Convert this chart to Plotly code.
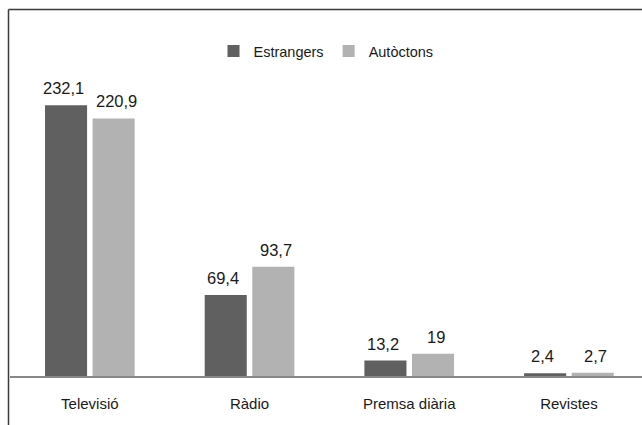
import plotly.graph_objects as go

categories = ["Televisió", "Ràdio", "Premsa diària", "Revistes"]
estrangers = [232.1, 69.4, 13.2, 2.4]
autoctons = [220.9, 93.7, 19, 2.7]
series_names = ["Estrangers", "Autòctons"]
colors = ["#606060", "#b2b2b2"]

def fmt(v):
    s = ("%g" % v).replace(".", ",")
    return s

FONT = "Liberation Sans, Arial, sans-serif"

fig = go.Figure()
for name, vals, col in zip(series_names, [estrangers, autoctons], colors):
    fig.add_trace(go.Bar(
        x=categories, y=vals, name=name, marker=dict(color=col, line=dict(width=0)),
    ))

# value labels above bars
offsets = [-26.5, 26.5]
for vals, dx in zip([estrangers, autoctons], offsets):
    for c, v in zip(categories, vals):
        fig.add_annotation(x=c, y=v, xref="x", yref="y", text=fmt(v), showarrow=False,
                           xshift=dx, yshift=6, yanchor="bottom",
                           font=dict(size=16.5, color="#1a1a1a", family=FONT))

W, H = 642, 425
ml, mr, mt, mb = 10, 0, 60, 49
pw, ph = W - ml - mr, H - mt - mb

fig.update_layout(
    width=W, height=H,
    margin=dict(l=ml, r=mr, t=mt, b=mb),
    paper_bgcolor="white", plot_bgcolor="white",
    barmode="group", bargap=0.404, bargroupgap=0.116,
    font=dict(family=FONT, size=15, color="#1a1a1a"),
    showlegend=True,
    legend=dict(orientation="h", x=0.5, xanchor="center", y=(ph - (51 - mt)) / ph,
                yanchor="middle", font=dict(size=14.5), itemwidth=30, traceorder="normal"),
    xaxis=dict(range=[-0.5, 3.5 - 6.75 / 159.5], showline=True, linecolor="#888888",
               linewidth=2, ticks="", showgrid=False, ticklabelstandoff=13,
               tickfont=dict(size=15)),
    yaxis=dict(range=[0, ph / 1.166], visible=False, showgrid=False, zeroline=False),
    shapes=[
        dict(type="line", xref="paper", yref="paper",
             x0=(8.5 - ml) / pw, x1=(W + 5 - ml) / pw,
             y0=(ph + mt - 9.5) / ph, y1=(ph + mt - 9.5) / ph,
             line=dict(color="#3a3a3a", width=1.5)),
        dict(type="line", xref="paper", yref="paper",
             x0=(8.5 - ml) / pw, x1=(8.5 - ml) / pw,
             y0=(ph + mt - 9.5) / ph, y1=(ph + mt - H - 5) / ph,
             line=dict(color="#3a3a3a", width=1.5)),
    ],
)

fig.write_html("out.html")
